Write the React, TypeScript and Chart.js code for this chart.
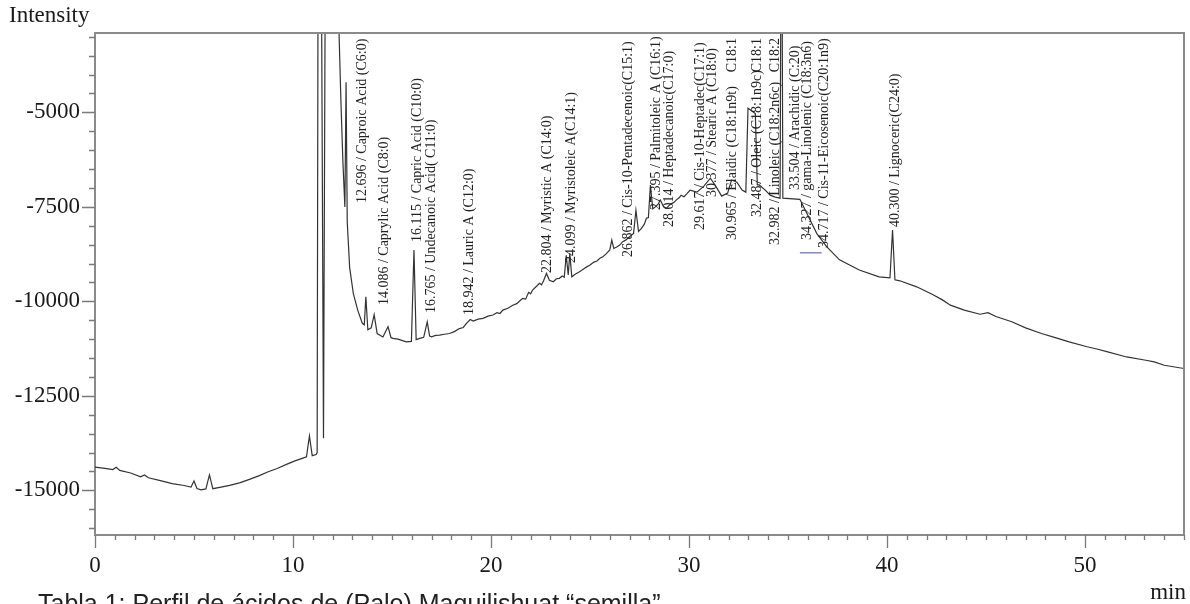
import React, { useEffect, useRef } from "react";
import { Chart, registerables } from "chart.js";

Chart.register(...registerables);

// Retention time (min) of each sampled point of the trace
const retentionTimes = [
  // 0 - 11.2 min
  0, 0.5, 0.9, 1.07, 1.25, 1.8, 2.3, 2.5, 2.7, 3.3,
  3.9, 4.5, 4.85, 5.0, 5.15, 5.35, 5.6, 5.78, 5.95, 6.3,
  6.8, 7.3, 7.8, 8.3, 8.75, 9.2, 9.7, 10.1, 10.5, 10.68,
  10.83, 10.97, 11.17,
  // solvent front and early peaks
  11.22, 11.28, 11.4, 11.54, 11.66, 12.28, 12.33, 12.42, 12.52, 12.62,
  12.68, 12.74, 12.86, 13.05, 13.28, 13.5, 13.6, 13.68, 13.78, 13.95,
  14.1, 14.25, 14.54, 14.8, 14.95, 15.05, 15.3, 15.72, 15.98, 16.11,
  16.22, 16.4, 16.6, 16.78, 16.9,
  // 17 - 30 min
  17.0, 17.2, 17.4, 17.65, 17.9, 18.15, 18.4, 18.6, 18.75, 18.95,
  19.1, 19.35, 19.6, 19.85, 20.1, 20.3, 20.45, 20.6, 20.85, 21.1,
  21.3, 21.45, 21.6, 21.75, 21.9, 22.0, 22.1, 22.3, 22.45, 22.55,
  22.65, 22.8, 22.95, 23.15, 23.3, 23.45, 23.6, 23.7, 23.8, 23.9,
  23.98, 24.08, 24.25, 24.45, 24.6, 24.8, 25.0, 25.2, 25.35, 25.5,
  25.65, 25.8, 26.0, 26.1, 26.2, 26.35, 26.5, 26.65, 26.8, 27.0,
  27.2, 27.32, 27.45, 27.6, 27.75, 27.85, 27.95, 28.05, 28.17, 28.3,
  28.45, 28.55, 28.7, 28.85, 29.0, 29.1, 29.25, 29.35, 29.5, 29.6,
  29.75, 29.9,
  // 30 - 55 min
  30.05, 30.4, 30.75, 31.08, 31.35, 31.65, 31.95, 32.15, 32.42, 32.68,
  32.87, 32.98, 33.35, 33.45, 33.55, 33.85, 34.1, 34.35, 34.6, 34.67,
  34.74, 35.6, 35.95, 36.45, 36.95, 37.6, 38.6, 39.6, 40.15, 40.28,
  40.4, 40.65, 41.5, 42.3, 42.8, 43.2, 43.9, 44.7, 45.1, 45.5,
  46.3, 47.0, 47.8, 48.5, 49.2, 50.1, 50.6, 51.1, 52.1, 53.0,
  53.5, 54.0, 55.0,
];

// Detector intensity at each retention time (values above the frame are off-scale peaks)
const intensities = [
  // 0 - 11.2 min
  -14386, -14420, -14450, -14390, -14470, -14540, -14640, -14590, -14665, -14740,
  -14820, -14870, -14910, -14750, -14950, -14985, -14960, -14590, -14955, -14920,
  -14865, -14800, -14710, -14610, -14505, -14420, -14305, -14220, -14145, -14110,
  -13560, -14080, -14050,
  // solvent front and early peaks
  -14000, 3000, 3000, -13620, 3000, 3000, -3000, -4700, -6300, -7500,
  -4200, -7900, -9100, -9800, -10250, -10580, -10620, -9880, -10750, -10700,
  -10350, -10850, -10940, -10670, -10960, -10980, -11000, -11070, -11060, -8640,
  -11010, -10980, -10950, -10540, -10920,
  // 17 - 30 min
  -10940, -10900, -10890, -10870, -10850, -10800, -10720, -10690, -10590, -10480,
  -10520, -10470, -10450, -10390, -10360, -10300, -10320, -10230, -10180, -10100,
  -10060, -9990, -9920, -9940, -9760, -9800, -9700, -9600, -9520, -9560,
  -9460, -9260, -9440, -9480, -9400, -9390, -9330, -9360, -8780, -9300,
  -8730, -9350, -9280, -9220, -9170, -9100, -9040, -8960, -8930, -8860,
  -8820, -8750, -8640, -8380, -8600, -8560, -8510, -8420, -8380, -8290,
  -8200, -7590, -8150, -8070, -7950, -7800, -7780, -6920, -7550, -7500,
  -7420, -7320, -7480, -7540, -7460, -7420, -7380, -7320, -7260, -7190,
  -7230, -7150,
  // 30 - 55 min
  -7060, -7110, -6950, -6740, -6950, -7215, -7135, -6790, -6845, -7056,
  -7110, -4890, -5030, -6920, -6920, -7056, -7190, -7240, -7270, 3000,
  -7270, -7300, -7670, -8200, -8550, -8900, -9170, -9350, -9380, -8110,
  -9430, -9455, -9615, -9820, -9960, -10100, -10230, -10340, -10300, -10400,
  -10540, -10700, -10850, -10960, -11070, -11200, -11260, -11330, -11470, -11550,
  -11600, -11690, -11775,
];

// Peak annotations
const peakLabels = [
  "12.696 / Caproic Acid (C6:0)",
  "14.086 / Caprylic Acid (C8:0)",
  "16.115 / Capric Acid (C10:0)",
  "16.765 / Undecanoic Acid( C11:0)",
  "18.942 / Lauric A (C12:0)",
  "22.804 / Myristic A (C14:0)",
  "24.099 / Myristoleic A(C14:1)",
  "26.862 / Cis-10-Pentadecenoic(C15:1)",
  "27.395 / Palmitoleic A (C16:1)",
  "28.014 / Heptadecanoic(C17:0)",
  "29.617 / Cis-10-Heptadec(C17:1)",
  "30.377 / Stearic A (C18:0)",
  "30.965 / Elaidic (C18:1n9t)",
  "32.487 / Oleic (C18:1n9c)",
  "32.982 / Linoleic (C18:2n6c)",
  "33.504 / Arachidic (C:20)",
  "34.327 / gama-Linolenic (C18:3n6)",
  "34.717 / Cis-11-Eicosenoic(C20:1n9)",
  "40.300 / Lignoceric(C24:0)",
];
// Trailing text shown at the top end of some annotation columns
const peakSuffixes = ["", "", "", "", "", "", "", "", "", "", "", "", "C18:1", "C18:1", "C18:2", "", "", "", ""];
// Where each annotation sits along the time axis (min)
const labelTimes = [
  13.52, 14.63, 16.3, 17.0, 18.92, 22.87, 24.08, 26.96, 28.37, 29.03, 30.55, 31.2, 32.21, 33.43, 34.34, 35.35, 36.0, 36.86, 40.4,
];
// Intensity level at which each annotation starts
const labelBases = [
  -7399, -10098, -8431, -10309, -10362, -9251, -8987, -8828, -7585, -8034, -8114, -7241, -8378, -7770, -8511, -7056, -8378, -8590, -8034,
];

// Short integration baseline mark
const baselineMarkTimes = [35.6, 36.7];
const baselineMarkLevels = [-8714, -8714];

// Axis settings
const xMin = 0;
const xMax = 55;
const yMin = -16180;
const yMax = -2900;
const xLabelValues = [0, 10, 20, 30, 40, 50];
const yLabelValues = [-15000, -12500, -10000, -7500, -5000];

const SERIF = '"Liberation Serif", "Times New Roman", serif';

const decorPlugin = {
  id: "decor",
  afterDatasetsDraw(chart: any) {
    const { ctx, chartArea: a, scales } = chart;
    const xs = scales.x;
    const ys = scales.y;
    ctx.save();
    ctx.beginPath();
    ctx.rect(a.left, a.top + 3, a.right - a.left, a.bottom - a.top - 3);
    ctx.clip();
    ctx.fillStyle = "#222";
    ctx.font = `14px ${SERIF}`;
    ctx.textBaseline = "middle";
    peakLabels.forEach((txt, i) => {
      const px = xs.getPixelForValue(labelTimes[i]);
      const py = ys.getPixelForValue(labelBases[i]);
      ctx.save();
      ctx.translate(px, py);
      ctx.rotate(-Math.PI / 2);
      ctx.textAlign = "left";
      ctx.fillText(txt, 0, 0);
      ctx.restore();
      if (peakSuffixes[i]) {
        ctx.save();
        ctx.translate(px, a.top + 5);
        ctx.rotate(-Math.PI / 2);
        ctx.textAlign = "right";
        ctx.fillText(peakSuffixes[i], 0, 0);
        ctx.restore();
      }
    });
    ctx.restore();
  },
  afterDraw(chart: any) {
    const { ctx, chartArea: a, scales } = chart;
    const xs = scales.x;
    const ys = scales.y;
    ctx.save();
    // top and right frame
    ctx.strokeStyle = "#8a8a8a";
    ctx.lineWidth = 2;
    ctx.beginPath();
    ctx.moveTo(a.left, a.top);
    ctx.lineTo(a.right, a.top);
    ctx.lineTo(a.right, a.bottom);
    ctx.stroke();
    // tick marks
    ctx.strokeStyle = "#7a7a7a";
    ctx.lineWidth = 1.3;
    ctx.beginPath();
    for (let v = xMin; v <= xMax; v += 1) {
      const px = Math.round(xs.getPixelForValue(v)) + 0.5;
      const len = v % 10 === 0 ? 13 : 5;
      ctx.moveTo(px, a.bottom);
      ctx.lineTo(px, a.bottom + len);
    }
    for (let v = -16000; v <= yMax; v += 500) {
      const py = Math.round(ys.getPixelForValue(v)) + 0.5;
      const len = v % 2500 === 0 ? 13 : 6;
      ctx.moveTo(a.left, py);
      ctx.lineTo(a.left - len, py);
    }
    ctx.stroke();
    // axis titles
    ctx.fillStyle = "#1a1a1a";
    ctx.font = `23px ${SERIF}`;
    ctx.textBaseline = "alphabetic";
    ctx.textAlign = "left";
    ctx.fillText("Intensity", 9, 22);
    ctx.textAlign = "right";
    ctx.fillText("min", a.right + 2, 599);
    // cut-off caption below the figure
    ctx.fillStyle = "#222";
    ctx.font = `25px "Liberation Sans", Arial, sans-serif`;
    ctx.textAlign = "left";
    ctx.fillText("Tabla 1: Perfil de ácidos de (Palo) Maquilishuat “semilla”", 38, 612);
    ctx.restore();
  },
};

export default function App() {
  const ref = useRef<HTMLCanvasElement | null>(null);
  useEffect(() => {
    if (!ref.current) return;
    const trace = retentionTimes.map((t, i) => ({ x: t, y: intensities[i] }));
    const mark = baselineMarkTimes.map((t, i) => ({ x: t, y: baselineMarkLevels[i] }));
    const chart = new Chart(ref.current, {
      type: "line",
      data: {
        datasets: [
          {
            data: trace,
            borderColor: "#333",
            borderWidth: 1.2,
            pointRadius: 0,
            tension: 0,
            clip: 0,
          } as any,
          {
            data: mark,
            borderColor: "#8c8cd0",
            borderWidth: 1.6,
            pointRadius: 0,
            tension: 0,
          } as any,
        ],
      },
      options: {
        responsive: false,
        animation: false,
        devicePixelRatio: 1,
        events: [],
        layout: { padding: { top: 33, right: 6, left: 0, bottom: 0 } },
        plugins: { legend: { display: false }, tooltip: { enabled: false }, title: { display: false } },
        scales: {
          x: {
            type: "linear",
            min: xMin,
            max: xMax,
            afterFit: (s: any) => {
              s.height = 69;
            },
            afterBuildTicks: (s: any) => {
              s.ticks = xLabelValues.map((v) => ({ value: v }));
            },
            border: { display: true, color: "#8a8a8a", width: 2 },
            grid: { display: true, drawOnChartArea: false, drawTicks: true, tickLength: 13, color: "rgba(0,0,0,0)" },
            ticks: {
              autoSkip: false,
              maxRotation: 0,
              padding: 4,
              color: "#1a1a1a",
              font: { family: SERIF, size: 23 },
              callback: (v: any) => String(v),
            },
          },
          y: {
            type: "linear",
            min: yMin,
            max: yMax,
            afterFit: (s: any) => {
              s.width = 95;
            },
            afterBuildTicks: (s: any) => {
              s.ticks = yLabelValues.map((v) => ({ value: v }));
            },
            border: { display: true, color: "#8a8a8a", width: 2 },
            grid: { display: true, drawOnChartArea: false, drawTicks: true, tickLength: 13, color: "rgba(0,0,0,0)" },
            ticks: {
              autoSkip: false,
              padding: 2,
              color: "#1a1a1a",
              font: { family: SERIF, size: 23 },
              callback: (v: any) => String(v),
            },
          },
        },
      },
      plugins: [decorPlugin],
    });
    return () => chart.destroy();
  }, []);
  return (
    <div style={{ position: "fixed", left: 0, top: 0, width: 1190, height: 604, background: "#fff" }}>
      <canvas ref={ref} width={1190} height={604} style={{ width: 1190, height: 604, display: "block" }} />
    </div>
  );
}
